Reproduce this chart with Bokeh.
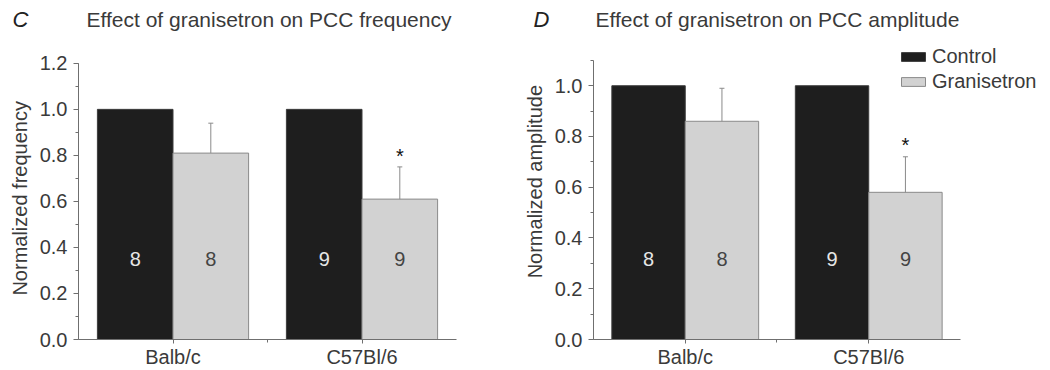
from bokeh.plotting import figure
from bokeh.models import (Range1d, SingleIntervalTicker, FixedTicker, PrintfTickFormatter,
                          Label, Legend, LegendItem)
from bokeh.layouts import row, column
from bokeh.embed import file_html
from bokeh.resources import INLINE
from bokeh.core.properties import value

# ---------------- data ----------------
strains = ["Balb/c", "C57Bl/6"]
series_names = ["Control", "Granisetron"]

freq_control = [1.0, 1.0]
freq_gran = [0.81, 0.61]
freq_gran_err = [0.13, 0.14]

amp_control = [1.0, 1.0]
amp_gran = [0.86, 0.58]
amp_gran_err = [0.13, 0.14]

n_control = ["8", "9"]
n_gran = ["8", "9"]
significant = [False, True]

panel_letters = ["C", "D"]
panel_titles = ["Effect of granisetron on PCC frequency",
                "Effect of granisetron on PCC amplitude"]
# non-breaking spaces nudge the rotated labels along the axis
y_labels = ["Normalized frequency\u00a0\u00a0\u00a0",
            "\u00a0\u00a0\u00a0Normalized amplitude"]

FONT = "Liberation Sans"
AXIS_COL = "#6f6f6f"
TEXT_COL = "#3a3a3a"
CTRL_FILL = "#1e1e1e"
CTRL_LINE = "#3c3c3c"
GRAN_FILL = "#d2d2d2"
GRAN_LINE = "#8a8a8a"

HEADER_H = 40
PANEL_H = 370 - HEADER_H
BOTTOM = 29


def make_panel(ylabel, control, gran, err, ymax, width, bl, axis_px_w, axis_px_h,
               n_y, legend=False):
    xs = [i + 1 for i in range(len(strains))]
    frame_w = width - bl
    frame_h = PANEL_H - BOTTOM
    x_end = 0.5 + 2.0 * frame_w / axis_px_w
    y_end = ymax * frame_h / axis_px_h
    p = figure(width=width, height=PANEL_H, x_range=Range1d(0.5, x_end),
               y_range=Range1d(0, y_end), output_backend="svg",
               toolbar_location=None, min_border_left=bl, min_border_right=0,
               min_border_top=0, min_border_bottom=BOTTOM)
    p.outline_line_color = None
    p.grid.visible = False

    cx = [x - 0.2 for x in xs]
    gx = [x + 0.2 for x in xs]
    rc = p.vbar(x=cx, top=control, bottom=0, width=0.4, fill_color=CTRL_FILL,
                line_color=CTRL_LINE, line_width=1)
    rg = p.vbar(x=gx, top=gran, bottom=0, width=0.4, fill_color=GRAN_FILL,
                line_color=GRAN_LINE, line_width=1)

    tops = [g + e for g, e in zip(gran, err)]
    p.segment(x0=gx, y0=gran, x1=gx, y1=tops, line_color=GRAN_LINE, line_width=1)
    p.scatter(x=gx, y=tops, marker="dash", size=5, line_color=GRAN_LINE, line_width=1)

    sx = [x for x, s in zip(gx, significant) if s]
    sy = [t + 0.06 for t, s in zip(tops, significant) if s]
    p.text(x=sx, y=sy, text=["*"] * len(sx), text_align="center",
           text_baseline="middle", text_font=value(FONT), text_font_size="20px",
           text_color="#111111", y_offset=3)

    p.text(x=cx, y=[n_y] * len(cx), text=n_control, text_align="center",
           text_baseline="middle", text_font=value(FONT), text_font_size="20px",
           text_color="#e6e6e6")
    p.text(x=gx, y=[n_y] * len(gx), text=n_gran, text_align="center",
           text_baseline="middle", text_font=value(FONT), text_font_size="20px",
           text_color="#444444")

    yax = p.yaxis[0]
    yax.ticker = SingleIntervalTicker(interval=0.2, num_minor_ticks=2)
    yax.formatter = PrintfTickFormatter(format="%.1f")
    yax.bounds = (0, ymax + 1e-4)
    yax.axis_label = ylabel
    yax.axis_label_text_font = FONT
    yax.axis_label_text_font_style = "normal"
    yax.axis_label_text_font_size = "20px"
    yax.axis_label_text_color = TEXT_COL
    yax.axis_label_standoff = 6

    xax = p.xaxis[0]
    xax.ticker = FixedTicker(ticks=xs, minor_ticks=[1.5])
    xax.major_label_overrides = {x: s for x, s in zip(xs, strains)}
    xax.bounds = (0.5, 2.5)

    for ax in (xax, yax):
        ax.axis_line_color = AXIS_COL
        ax.major_tick_line_color = AXIS_COL
        ax.minor_tick_line_color = AXIS_COL
        ax.major_tick_in = 0
        ax.major_tick_out = 5
        ax.minor_tick_in = 0
        ax.minor_tick_out = 3
        ax.major_label_text_font = FONT
        ax.major_label_text_font_size = "20px"
        ax.major_label_text_color = TEXT_COL
    yax.major_label_standoff = 6
    xax.major_tick_out = 4
    xax.major_label_standoff = 2

    if legend:
        lg = Legend(items=[LegendItem(label=series_names[0], renderers=[rc]),
                           LegendItem(label=series_names[1], renderers=[rg])],
                    location=(305, 246), orientation="vertical",
                    glyph_width=30, glyph_height=11, label_standoff=4,
                    spacing=2, padding=0, margin=0,
                    label_text_font=FONT, label_text_font_size="20px",
                    label_text_color=TEXT_COL, border_line_alpha=0,
                    background_fill_alpha=0)
        p.add_layout(lg, "center")
    return p


# header with panel letters and titles
header = figure(width=1050, height=HEADER_H, x_range=Range1d(0, 1050),
                y_range=Range1d(HEADER_H, 0), output_backend="svg",
                toolbar_location=None, x_axis_type=None, y_axis_type=None,
                min_border=0)
header.outline_line_color = None
header.grid.visible = False
letter_x = [12, 533]
title_x = [86, 595]
for lx, tx, letter, title in zip(letter_x, title_x, panel_letters, panel_titles):
    header.add_layout(Label(x=lx, y=19, text=letter, text_font=FONT,
                            text_font_size="22px", text_font_style="italic",
                            text_color="#222222", text_baseline="middle"))
    header.add_layout(Label(x=tx, y=19, text=title, text_font=FONT,
                            text_font_size="21px", text_color=TEXT_COL,
                            text_baseline="middle"))

# left panel: y axis 0..1.2 spans px 63..341, x axis px 78..456
p1 = make_panel(y_labels[0], freq_control, freq_gran, freq_gran_err, 1.2, 520, 78,
                456 - 78, 341 - 63, 0.35)
# right panel: y axis 0..1.1 spans px 60..341, x axis px 588..959
p2 = make_panel(y_labels[1], amp_control, amp_gran, amp_gran_err, 1.1, 530, 68,
                959 - 588, 341 - 60, 0.317, legend=True)

layout = column(header, row(p1, p2))
open("out.html", "w").write(file_html(layout, INLINE))
